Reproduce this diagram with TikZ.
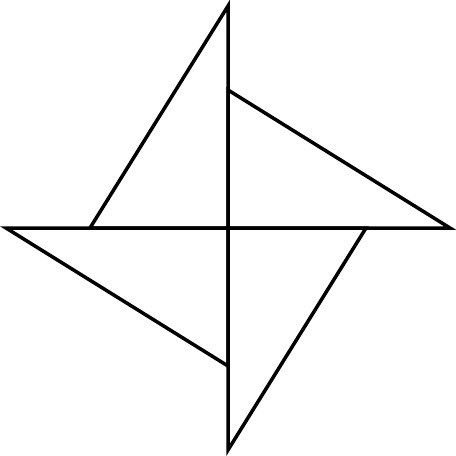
\documentclass[tikz,border=0pt]{standalone}
\begin{document}
\begin{tikzpicture}[x=1pt,y=-1pt,line width=3.5pt,line join=miter,
  tri/.style={draw=black}]
\useasboundingbox (0,0) rectangle (456,456);
\coordinate (C) at (228,228);
\foreach \a in {0,90,180,270}{
  \draw[tri,rotate around={\a:(C)}] (228,6) -- (228,228) -- (90,228) -- cycle;
}
\end{tikzpicture}
\end{document}
